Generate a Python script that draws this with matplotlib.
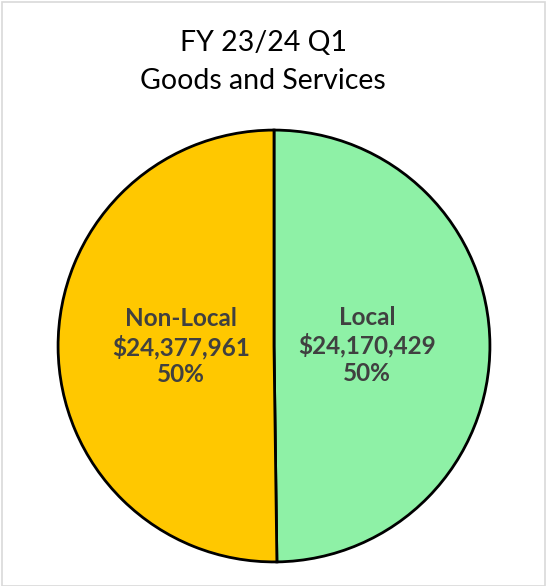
import numpy as np
import matplotlib.pyplot as plt
from matplotlib.patches import Rectangle

categories = ['Local', 'Non-Local']
values = [24170429, 24377961]
colors = ['#8EF1A6', '#FFC800']

plt.rcParams['font.family'] = ['Lato', 'DejaVu Sans']

fig = plt.figure(figsize=(5.46, 5.86), dpi=100)
fig.patches.append(Rectangle((0.004, 0.0), 0.995, 0.996, transform=fig.transFigure,
                             fill=False, edgecolor='#d9d9d9', linewidth=1.2))

fig.text(0.482, 0.927, 'FY 23/24 Q1', ha='center', va='center', fontsize=20.5)
fig.text(0.482, 0.862, 'Goods and Services', ha='center', va='center', fontsize=20.5)

# pie area: center ~ (274, 346) px, radius ~217 px
r = 217
cx, cy = 274, 346
ax = fig.add_axes([(cx - r) / 546, (586 - cy - r) / 586, 2 * r / 546, 2 * r / 586])
wedges, _ = ax.pie(values, colors=colors, startangle=90, counterclock=False,
                   wedgeprops=dict(edgecolor='black', linewidth=2))
ax.set_xlim(-1.005, 1.005)
ax.set_ylim(-1.005, 1.005)
ax.set_aspect('equal')

total = sum(values)
for w, name, v in zip(wedges, categories, values):
    ang = np.deg2rad((w.theta1 + w.theta2) / 2)
    x, y = 0.43 * np.cos(ang), 0.43 * np.sin(ang)
    ax.text(x, y, f'{name}\n${v:,}\n{v / total:.0%}', ha='center', va='center',
            fontsize=17.5, fontweight='bold', color='#404040', linespacing=1.2)

fig.savefig('out.png', dpi=100)
